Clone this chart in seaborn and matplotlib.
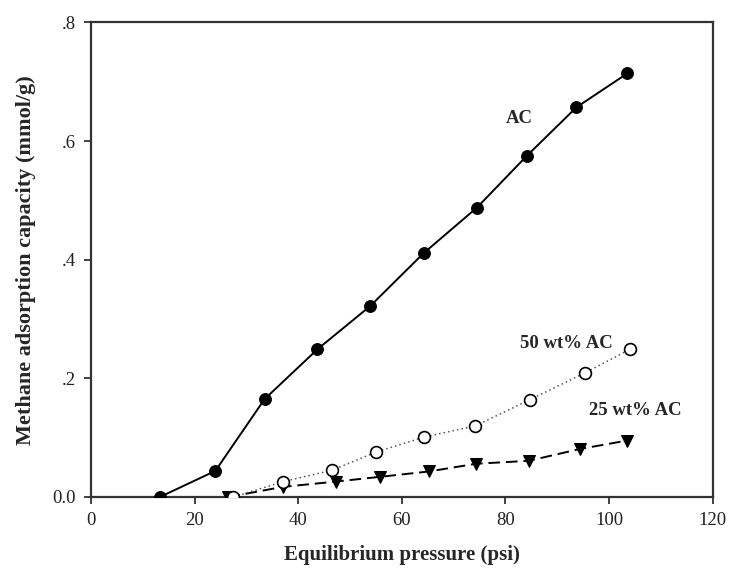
import matplotlib
matplotlib.use("Agg")
import matplotlib.pyplot as plt
import seaborn as sns
import pandas as pd

# Methane uptake vs. equilibrium pressure for the three adsorbents
ac_pressure = [13.3, 24.0, 33.5, 43.7, 53.9, 64.2, 74.5, 84.1, 93.7, 103.5]
ac_capacity = [0.000, 0.044, 0.165, 0.249, 0.322, 0.411, 0.488, 0.575, 0.657, 0.714]

ac50_pressure = [27.5, 37.1, 46.5, 55.1, 64.3, 74.2, 84.7, 95.3, 104.0]
ac50_capacity = [0.000, 0.026, 0.045, 0.076, 0.101, 0.120, 0.164, 0.209, 0.249]

ac25_pressure = [26.5, 37.0, 47.3, 55.8, 65.2, 74.3, 84.5, 94.4, 103.4]
ac25_capacity = [0.000, 0.017, 0.026, 0.034, 0.043, 0.056, 0.061, 0.081, 0.095]

series_labels = ["AC", "50 wt% AC", "25 wt% AC"]
x_ticks = [0, 20, 40, 60, 80, 100, 120]
y_ticks = [0.0, 0.2, 0.4, 0.6, 0.8]
y_tick_labels = ["0.0", ".2", ".4", ".6", ".8"]

sns.set_style("ticks")
plt.rcParams["font.family"] = ["Liberation Serif", "DejaVu Serif"]

fig = plt.figure(figsize=(7.3, 5.84), dpi=100)
ax = fig.add_axes([0.1247, 0.149, 0.8516, 0.8125])

df_ac = pd.DataFrame({"p": ac_pressure, "q": ac_capacity})
df_50 = pd.DataFrame({"p": ac50_pressure, "q": ac50_capacity})
df_25 = pd.DataFrame({"p": ac25_pressure, "q": ac25_capacity})

sns.lineplot(data=df_25, x="p", y="q", ax=ax, color="black", linewidth=1.4,
             linestyle=(0, (6, 3)), marker="v", markersize=8.5,
             markerfacecolor="black", markeredgecolor="black", zorder=3)
sns.lineplot(data=df_50, x="p", y="q", ax=ax, color="#555555", linewidth=1.1,
             linestyle=(0, (1, 2)), marker="o", markersize=8.5,
             markerfacecolor="white", markeredgecolor="black",
             markeredgewidth=1.2, zorder=4)
sns.lineplot(data=df_ac, x="p", y="q", ax=ax, color="black", linewidth=1.4,
             marker="o", markersize=8.5, markerfacecolor="black",
             markeredgecolor="black", zorder=5)

label_font = dict(fontsize=13.5, fontweight="bold", ha="center", va="center")
ax.text(82.7, 0.638, series_labels[0], **label_font)
ax.text(91.8, 0.259, series_labels[1], **label_font)
ax.text(105.1, 0.145, series_labels[2], **label_font)

ax.set_xlim(0, 120)
ax.set_ylim(0, 0.8)
ax.set_xticks(x_ticks)
ax.set_yticks(y_ticks)
ax.set_yticklabels(y_tick_labels)
ax.tick_params(direction="out", length=5, width=1.2, labelsize=13.5,
               colors="#222222", pad=6)
for side in ["left", "bottom", "top", "right"]:
    ax.spines[side].set_visible(True)
    ax.spines[side].set_linewidth(1.6)
    ax.spines[side].set_color("#333333")

ax.set_xlabel("Equilibrium pressure (psi)", fontsize=15, fontweight="bold",
              labelpad=11)
ax.set_ylabel("Methane adsorption capacity (mmol/g)", fontsize=16,
              fontweight="bold", labelpad=12)

fig.savefig("out.png", dpi=100, facecolor="white")
